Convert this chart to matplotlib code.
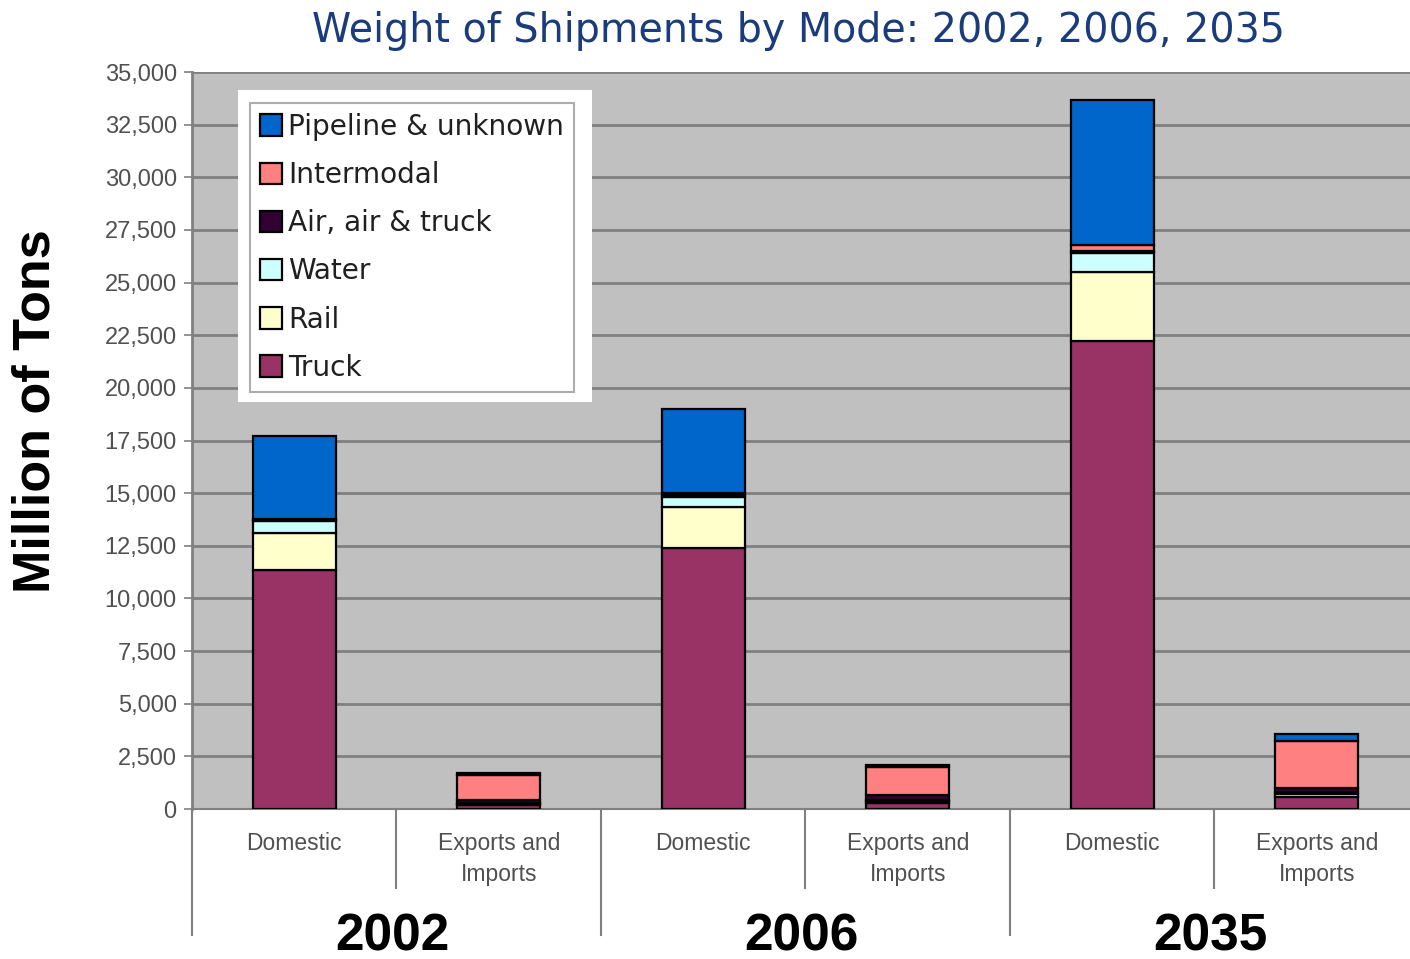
import matplotlib
matplotlib.use("Agg")
import matplotlib.pyplot as plt
from matplotlib.patches import Rectangle
import numpy as np

categories = ["Domestic", "Exports and\nImports", "Domestic", "Exports and\nImports", "Domestic", "Exports and\nImports"]
years = ["2002", "2006", "2035"]
modes = ["Truck", "Rail", "Water", "Air, air & truck", "Intermodal", "Pipeline & unknown"]
truck = [11350, 200, 12400, 300, 22230, 570]
rail = [1760, 60, 1950, 80, 3280, 130]
water = [570, 40, 475, 60, 900, 100]
air = [30, 120, 80, 220, 80, 200]
intermodal = [70, 1210, 110, 1330, 300, 2230]
pipeline = [3940, 70, 3990, 100, 6890, 330]
yticks = [0, 2500, 5000, 7500, 10000, 12500, 15000, 17500, 20000, 22500, 25000, 27500, 30000, 32500, 35000]
ytick_labels = ["0", "2,500", "5,000", "7,500", "10,000", "12,500", "15,000", "17,500", "20,000",
                "22,500", "25,000", "27,500", "30,000", "32,500", "35,000"]

colors = ["#993366", "#FFFFCC", "#CCFFFF", "#330033", "#FF8080", "#0066CC"]
series = [truck, rail, water, air, intermodal, pipeline]

W, H = 1410, 959
fig = plt.figure(figsize=(W / 100, H / 100), dpi=100)
fig.patch.set_facecolor("white")
left, right, top, bottom = 192, 1410, 72, 809
ax = fig.add_axes([left / W, (H - bottom) / H, (right - left) / W, (bottom - top) / H])
ax.set_facecolor("#C0C0C0")

x = np.arange(len(categories))
bottoms = np.zeros(len(categories))
handles = []
for vals, col, name in zip(series, colors, modes):
    b = ax.bar(x, vals, width=0.405, bottom=bottoms, color=col, edgecolor="black",
               linewidth=1.6, label=name, zorder=3)
    handles.append(b)
    bottoms += np.array(vals)

ax.set_ylim(0, 35000)
ax.set_xlim(-0.5, 5.456)
ax.set_yticks(yticks)
ax.set_yticklabels(ytick_labels, fontsize=17, color="#505050", family="Liberation Sans")
ax.yaxis.grid(True, color="#808080", linewidth=2, zorder=0)
ax.set_axisbelow(True)
ax.tick_params(axis="y", length=6, width=1.2, color="#808080", pad=5)
ax.set_xticks([])
for s in ["top", "right"]:
    ax.spines[s].set_visible(False)
ax.spines["left"].set_color("#808080")
ax.spines["left"].set_linewidth(2)
ax.spines["bottom"].set_color("#808080")
ax.spines["bottom"].set_linewidth(1.5)

# category labels
trans = ax.get_xaxis_transform()
px = 1.0 / (bottom - top)
for xi, lab in zip(x, categories):
    ax.text(xi, -23 * px, lab, transform=trans, ha="center", va="top", fontsize=16.5,
            color="#505050", family="Liberation Sans", linespacing=1.45)
# separators
for i in range(len(categories) + 1):
    xs = i - 0.5
    long_sep = (i % 2 == 0)
    depth = 126 if long_sep else 79
    ax.plot([xs, xs], [0, -depth * px], transform=trans, color="#808080", linewidth=1.5,
            clip_on=False)
# group labels
for gi, yr in enumerate(years):
    ax.text(2 * gi + 0.48, -128 * px, yr, transform=trans, ha="center", va="center",
            fontsize=37, fontweight="bold", color="black", family="Liberation Sans")

# y label
fig.text(36 / W, 1 - 411 / H, "Million of Tons", rotation=90, ha="center", va="center",
         fontsize=37.5, fontweight="bold", family="Liberation Sans")
# title
fig.text(799 / W, 1 - 31 / H, "Weight of Shipments by Mode: 2002, 2006, 2035", ha="center",
         va="center", fontsize=28.5, color="#1A3C7C", family="DejaVu Sans")

# legend with white outer panel
bg = Rectangle(((238 - left) / (right - left), (bottom - 402) / (bottom - top)),
               (592 - 238) / (right - left), (402 - 90) / (bottom - top),
               transform=ax.transAxes, facecolor="white", edgecolor="none", zorder=4)
ax.add_patch(bg)
leg = ax.legend(handles[::-1], modes[::-1], loc="upper left",
                bbox_to_anchor=((250 - left) / (right - left), (bottom - 103) / (bottom - top)),
                frameon=True, fancybox=False, borderpad=0.35,
                handlelength=0.8, handleheight=0.8, handletextpad=0.2, labelspacing=0.72,
                borderaxespad=0, prop={"family": "DejaVu Sans", "size": 20.2})
leg.get_frame().set_edgecolor("#999999")
leg.get_frame().set_linewidth(1.5)
leg.set_zorder(5)
for t in leg.get_texts():
    t.set_color("#202020")

fig.savefig("out.png", dpi=100, facecolor="white")
